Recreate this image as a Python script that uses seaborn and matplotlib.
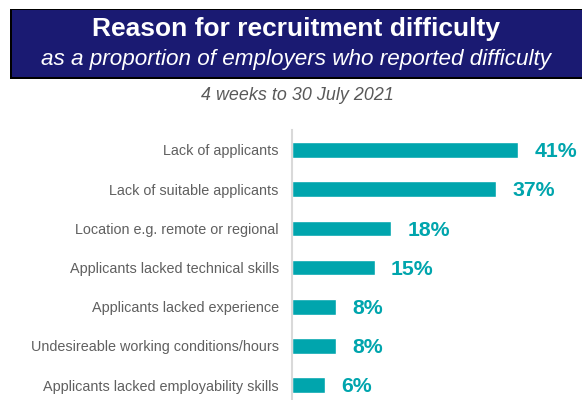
import matplotlib
matplotlib.use("Agg")
import matplotlib.pyplot as plt
from matplotlib.patches import Rectangle
import seaborn as sns
import pandas as pd

# Survey results
reasons = [
    "Lack of applicants",
    "Lack of suitable applicants",
    "Location e.g. remote or regional",
    "Applicants lacked technical skills",
    "Applicants lacked experience",
    "Undesireable working conditions/hours",
    "Applicants lacked employability skills",
]
shares = [41, 37, 18, 15, 8, 8, 6]

title = "Reason for recruitment difficulty"
subtitle = "as a proportion of employers who reported difficulty"
period = "4 weeks to 30 July 2021"

TEAL = "#00A5AD"
NAVY = "#1A1A72"
GREY = "#595959"

sns.set_theme(style="white")
plt.rcParams["font.family"] = ["Liberation Sans", "DejaVu Sans"]

W, H = 582, 400
fig = plt.figure(figsize=(W / 100, H / 100), dpi=100)

def fx(px):
    return px / W

def fy(py):
    return 1 - py / H

# Header banner
fig.add_artist(Rectangle((fx(10), fy(79)), fx(582 - 10), (79 - 9) / H,
                         transform=fig.transFigure, facecolor="black",
                         edgecolor="none", zorder=0))
fig.add_artist(Rectangle((fx(12), fy(77)), fx(582 - 12), (77 - 10) / H,
                         transform=fig.transFigure, facecolor=NAVY,
                         edgecolor="none", zorder=1))
fig.text(fx(296), fy(29), title, ha="center", va="center", color="white",
         fontsize=19, fontweight="bold", zorder=2)
fig.text(fx(296), fy(60), subtitle, ha="center", va="center", color="white",
         fontsize=16.2, fontstyle="italic", zorder=2)
fig.text(fx(297), fy(95), period, ha="center", va="center", color=GREY,
         fontsize=12.9, fontstyle="italic")

df = pd.DataFrame({"reason": reasons, "share": shares})

ax = fig.add_axes([fx(292), 0, fx(287), (400 - 130) / H])
sns.barplot(data=df, y="reason", x="share", orient="h", color=TEAL,
            width=0.4, saturation=1, ax=ax)

ax.set_xlim(0, 52)
ax.set_ylim(6.38, -0.51)
ax.set_xlabel("")
ax.set_ylabel("")
ax.set_xticks([])
ax.tick_params(axis="y", length=0, pad=9.5, labelsize=10.4, labelcolor="#606060")
for side in ("top", "right", "bottom"):
    ax.spines[side].set_visible(False)
ax.spines["left"].set_color("#D9D9D9")
ax.spines["left"].set_linewidth(1.5)
ax.set_facecolor("none")

for container in ax.containers:
    texts = ax.bar_label(container, labels=[f"{v}%" for v in shares],
                         padding=11.5, color=TEAL, fontsize=15.3,
                         fontweight="bold")
    for t in texts:
        dx, dy = t.xyann
        t.xyann = (dx, dy - 1.2)

fig.savefig("out.png", dpi=100)
